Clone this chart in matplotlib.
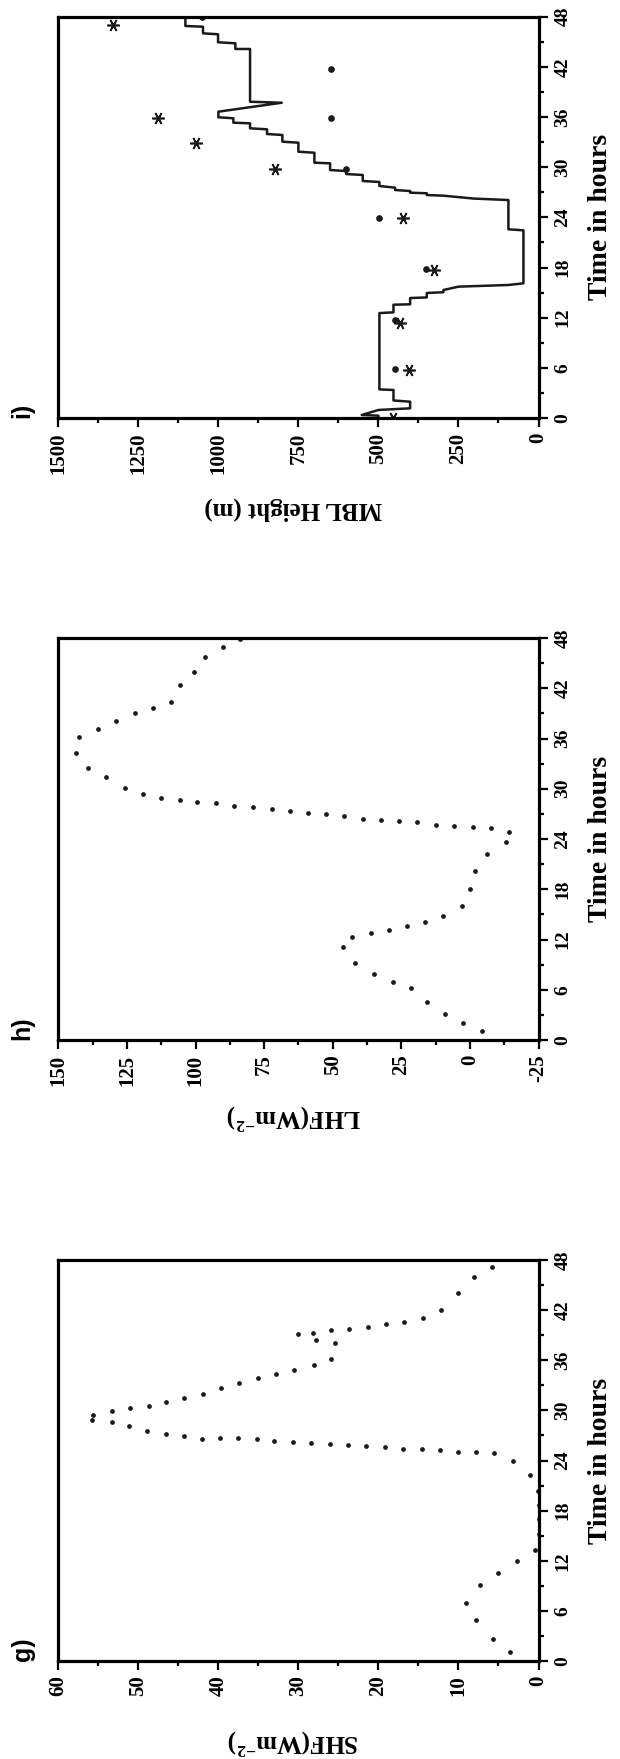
import numpy as np
import matplotlib
matplotlib.use("Agg")
import matplotlib.pyplot as plt
from matplotlib.ticker import MultipleLocator

plt.rcParams['font.family'] = ['Liberation Serif', 'DejaVu Serif']
plt.rcParams['font.weight'] = 'bold'
plt.rcParams['axes.unicode_minus'] = False
plt.rcParams['mathtext.fontset'] = 'custom'
plt.rcParams['mathtext.rm'] = 'Liberation Serif:bold'
plt.rcParams['mathtext.bf'] = 'Liberation Serif:bold'
plt.rcParams['mathtext.it'] = 'Liberation Serif:bold:italic'
plt.rcParams['mathtext.default'] = 'rm'

# ---- panel g : sensible heat flux (dotted curve) ----
shf_time = [1.04, 2.67, 4.87, 6.98, 9.1, 10.57, 11.97, 13.3, 15.2, 17.0, 18.7, 20.3,
            22.3, 24.0, 24.86, 25.05, 25.05, 25.22, 25.38, 25.38, 25.65, 25.77, 25.82,
            25.94, 26.06, 26.18, 26.37, 26.61, 26.69, 26.69, 26.61, 26.93, 27.14, 27.57,
            28.13, 28.64, 28.85, 29.45, 29.96, 30.28, 30.56, 31.04, 31.45, 31.96, 32.64,
            33.31, 33.84, 34.35, 34.83, 35.4, 36.19, 38.03, 38.42, 39.11, 39.23, 39.58,
            39.7, 39.98, 40.34, 40.62, 41.09, 42.01, 44.01, 46.0, 47.13]
shf_val = [3.5, 5.7, 7.8, 9.1, 7.3, 5.0, 2.7, 0.4, 0.0, 0.0, 0.0, 0.1,
           1.1, 3.2, 5.5, 7.8, 10.0, 12.3, 14.6, 16.9, 19.2, 21.5, 23.8,
           26.1, 28.4, 30.7, 33.0, 35.2, 37.5, 39.8, 42.1, 44.3, 46.6, 48.9,
           51.2, 53.3, 55.75, 55.7, 53.3, 51.1, 48.7, 46.5, 44.3, 41.9, 39.7,
           37.4, 35.1, 32.8, 30.5, 28.1, 25.9, 25.4, 27.75, 30.1, 28.15, 25.9,
           23.7, 21.3, 19.1, 16.8, 14.4, 12.2, 10.1, 8.0, 5.8]

# ---- panel h : latent heat flux (dotted curve) ----
lhf_time = [1.07, 2.07, 3.1, 4.5, 6.17, 6.96, 7.88, 9.16, 11.1, 12.26, 12.74, 13.13,
            13.61, 14.12, 14.77, 15.96, 18.06, 20.14, 22.2, 23.64, 24.87, 25.28, 25.4,
            25.55, 25.67, 26.03, 26.15, 26.27, 26.39, 26.78, 26.95, 27.07, 27.31, 27.55,
            27.82, 27.98, 28.3, 28.42, 28.69, 28.86, 29.41, 30.13, 31.37, 32.44, 34.23,
            36.18, 37.1, 38.13, 39.08, 39.6, 40.39, 42.39, 43.98, 45.77, 46.9, 47.85]
lhf_val = [-4.4, 2.4, 9.0, 15.6, 21.4, 28.0, 34.9, 41.7, 46.3, 43.0, 36.1, 29.4,
           22.8, 16.2, 9.7, 3.0, -0.1, -2.0, -6.1, -13.0, -14.3, -7.7, -1.1,
           5.8, 12.3, 19.1, 25.7, 32.5, 39.1, 45.7, 52.6, 59.0, 65.7, 72.3,
           79.0, 85.9, 92.7, 99.4, 105.8, 112.5, 119.3, 125.7, 132.7, 139.3, 143.4,
           142.4, 135.4, 129.0, 122.0, 115.4, 109.0, 105.8, 100.7, 96.7, 90.1, 83.8]

# ---- panel i : MBL height ----
mbl_time = [0, 0.28, 0.36, 0.96, 1.16, 1.95, 2.1, 3.35, 3.42, 12.55, 12.64, 13.55,
            13.6, 14.35, 14.42, 14.95, 15.05, 15.31, 15.71, 15.91, 16.11, 22.45, 22.57,
            26.07, 26.25, 26.42, 26.59, 26.67, 26.88, 26.95, 27.15, 27.27, 27.55, 27.75,
            28.23, 28.35, 29.07, 29.18, 29.54, 29.66, 30.46, 30.54, 31.73, 31.85, 32.93,
            33.05, 33.85, 33.97, 34.53, 34.65, 35.25, 35.32, 35.85, 35.97, 36.64, 37.71,
            37.83, 44.14, 44.14, 44.82, 44.94, 45.9, 46.01, 46.8, 46.89, 48]
mbl_model = [500, 500, 552, 500, 401, 401, 453, 453, 497, 497, 453, 453,
             401, 401, 349, 349, 297, 297, 250, 94, 47, 47, 94,
             94, 204, 250, 297, 349, 349, 401, 401, 448, 448, 497,
             497, 549, 549, 601, 601, 651, 651, 700, 700, 750, 750,
             800, 800, 848, 848, 901, 901, 953, 953, 1000, 1000, 802,
             901, 901, 947, 947, 1001, 1001, 1048, 1048, 1103, 1103]
star_time = [0.0, 5.74, 11.33, 17.7, 23.89, 29.75, 32.93, 35.89, 47.04]
star_val = [453, 404, 432, 325, 422, 823, 1069, 1190, 1330]
dot_time = [5.82, 11.72, 17.79, 23.89, 29.78, 35.88, 41.74, 47.93]
dot_val = [448, 448, 351, 498, 601, 649, 649, 1052]

W, H = 620, 1759
fig = plt.figure(figsize=(W / 100, H / 100), dpi=100)

left, right = 58.3, 538.5


def make_ax(top, bottom):
    return fig.add_axes([left / W, 1 - bottom / H, (right - left) / W, (bottom - top) / H])


def style(ax, vmax, vmin, vmaj, label, label_y, panel, bottom_px):
    ax.set_xlim(vmax, vmin)
    ax.set_ylim(0, 48)
    ax.xaxis.set_major_locator(MultipleLocator(vmaj))
    ax.xaxis.set_minor_locator(MultipleLocator(vmaj / 2))
    ax.yaxis.set_major_locator(MultipleLocator(6))
    ax.yaxis.set_minor_locator(MultipleLocator(3))
    ax.yaxis.tick_right()
    ax.tick_params(which='both', direction='out', width=1.6, top=False, left=False)
    ax.tick_params(which='major', length=6.5)
    ax.tick_params(which='minor', length=3.8)
    ax.tick_params(axis='x', which='major', labelsize=15, labelrotation=90, pad=4)
    ax.tick_params(axis='y', which='major', labelsize=14, labelrotation=90, pad=5)
    for lab in ax.get_yticklabels():
        lab.set_verticalalignment('center')
    for sp in ax.spines.values():
        sp.set_linewidth(2.3)
    ax.set_xlabel(label, fontsize=18, fontweight='bold', rotation=180, va='center', ha='center')
    ax.xaxis.set_label_coords(0.49, label_y)
    ax.yaxis.set_label_position('right')
    ax.set_ylabel('Time in hours', fontsize=20, fontweight='bold', rotation=90, va='center', ha='center')
    ax.yaxis.set_label_coords(1.13, 0.5)
    fig.text(22.5 / W, 1 - bottom_px / H, panel, family='Liberation Sans', fontweight='bold',
             fontsize=18, rotation=90, ha='center', va='bottom')


# panel i
ax_i = make_ax(16.7, 418.0)
ax_i.plot(mbl_model, mbl_time, color='#1a1a1a', lw=1.8)
ax_i.plot(star_val, star_time, ls='none', marker=(6, 2, 30), ms=9, mew=1.2, color='#1a1a1a')
ax_i.plot(dot_val, dot_time, ls='none', marker='o', ms=3.8, color='#1a1a1a')
style(ax_i, 1500, 0, 250, 'MBL Height (m)', -0.227, 'i)', 418.0)

# panel h
ax_h = make_ax(638.0, 1040.0)
ax_h.plot(lhf_val, lhf_time, ls='none', marker='o', ms=2.4, color='#1a1a1a')
style(ax_h, 150, -25, 25, r'LHF(Wm$^{-2}$)', -0.1915, 'h)', 1040.0)

# panel g
ax_g = make_ax(1260.0, 1661.0)
ax_g.plot(shf_val, shf_time, ls='none', marker='o', ms=2.4, color='#1a1a1a')
style(ax_g, 60, 0, 10, r'SHF(Wm$^{-2}$)', -0.202, 'g)', 1661.0)

fig.savefig('out.png', dpi=100)
